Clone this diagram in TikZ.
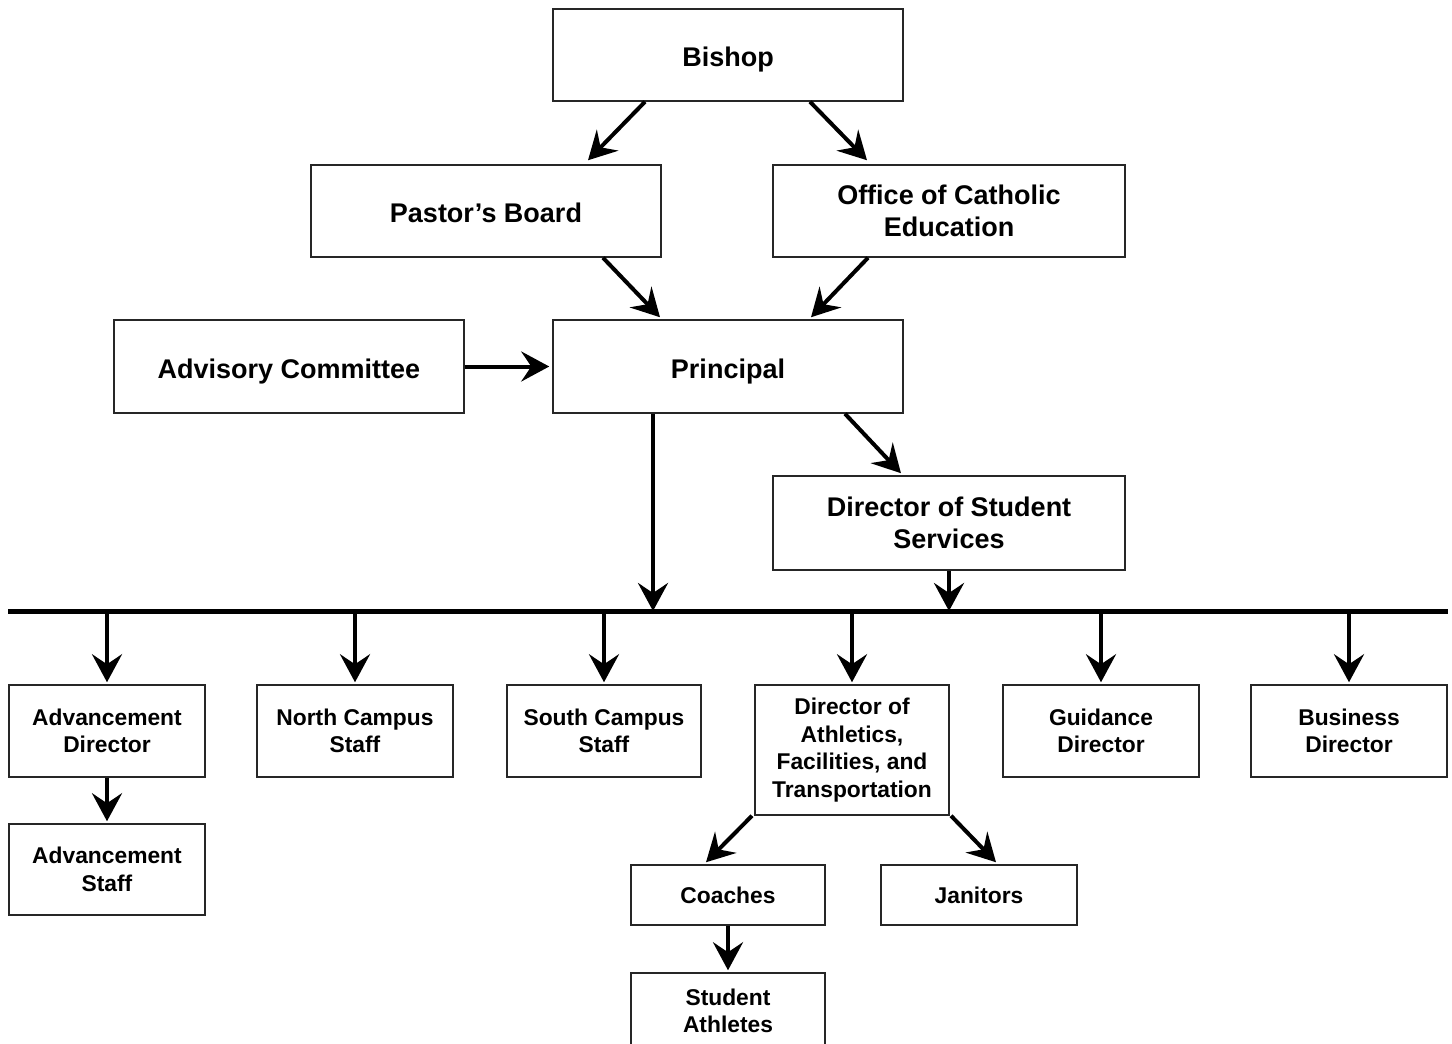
\documentclass[tikz,border=0pt]{standalone}
\usepackage{fontspec}
\setmainfont{Liberation Sans}
\usetikzlibrary{arrows.meta, positioning, calc}
\tikzset{
->, % every link is directed
>={Stealth[length=14pt, width=15pt, inset=5pt]}, % large heads with a notched back
box/.style={-, draw=black!85, line width=0.75pt, align=center, inner sep=0pt,
  minimum width=175pt, minimum height=46pt, font=\fontsize{13.5}{16}\selectfont\bfseries}, % the wide boxes
oneline/.style={text height=11.7pt, text depth=0pt}, % keeps single lines a bit low, as drawn
smallbox/.style={box, minimum width=98pt, font=\fontsize{11.4}{13.8}\selectfont\bfseries}, % the lower row
link/.style={line width=2pt}, % thick arrows
}

\begin{document}
\begin{tikzpicture}[x=0.5pt, y=-0.5pt]
    \useasboundingbox (0,0) rectangle (1452,1044);

    \node[box, oneline] (bishop) at (728,55) {Bishop};
    \node[box, oneline] (pastor) at (486,211) {Pastor’s Board};
    \node[box, minimum width=176pt] (oce) at (949,211) {Office of Catholic\\Education};
    \node[box, oneline, minimum height=46.5pt] (advisory) at (289,366.5) {Advisory Committee};
    \node[box, oneline, minimum height=46.5pt] (principal) at (728,366.5) {Principal};
    \node[box, minimum width=176pt, minimum height=47pt] (dss) at (949,523) {Director of Student\\Services};

    \coordinate (busL) at (8,611);
    \coordinate (busR) at (1448,611);

    \node[smallbox] (advdir) at (107,731) {Advancement\\Director};
    \node[smallbox] (north) at (355,731) {North Campus\\Staff};
    \node[smallbox, minimum width=97pt] (south) at (604,731) {South Campus\\Staff};
    \node[smallbox, minimum width=97pt, minimum height=65pt] (daft) at (852,750) {Director of\\Athletics,\\Facilities, and\\Transportation};
    \node[smallbox] (guidance) at (1101,731) {Guidance\\Director};
    \node[smallbox] (business) at (1349,731) {Business\\Director};
    \node[smallbox, minimum height=45.5pt] (advstaff) at (107,869.5) {Advancement\\Staff};
    \node[smallbox, minimum width=97pt, minimum height=30pt] (coaches) at (728,895) {Coaches};
    \node[smallbox, minimum height=30pt] (janitors) at (979,895) {Janitors};
    \node[smallbox, minimum width=97pt, minimum height=38pt] (athletes) at (728,1011) {Student\\Athletes};

    \draw[link]
    ($(bishop.south)+(-83,0)$) -- ($(pastor.north)+(102,-4)$);
    \draw[link]
    ($(bishop.south)+(82,0)$) -- ($(oce.north)+(-82,-4)$);

    \draw[link]
    ($(pastor.south)+(117,0)$) -- ($(principal.north)+(-68,-2)$);
    \draw[link]
    ($(oce.south)+(-81,0)$) -- ($(principal.north)+(83,-2)$);

    \draw[link]
    (advisory.east) -- ($(principal.west)+(-3,0)$);

    \draw[link]
    ($(principal.south)+(117,0)$) -- ($(dss.north)+(-48,-2)$);

    % the bus line
    \draw[-, line width=2.5pt] (busL) -- (busR);

    \coordinate (pdrop) at ($(principal.south)+(-75,0)$);
    \draw[link] (pdrop) -- (pdrop |- busL);
    \draw[link] (dss.south) -- (dss.south |- busL);

    \foreach \n in {advdir, north, south, daft, guidance, business}
        \draw[link] (\n.north |- busL) -- ($(\n.north)+(0,-2)$);

    \draw[link]
    (advdir.south) -- ($(advstaff.north)+(0,-2)$);

    \draw[link]
    ($(daft.south)+(-100,0)$) -- ($(coaches.north)+(-22,-2)$);
    \draw[link]
    ($(daft.south)+(99,0)$) -- ($(janitors.north)+(17,-2)$);

    \draw[link]
    (coaches.south) -- ($(athletes.north)+(0,-2)$);

  \end{tikzpicture}
\end{document}
